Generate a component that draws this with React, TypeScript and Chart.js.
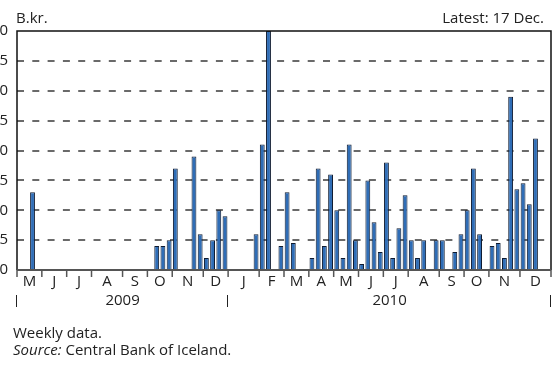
import React, { useEffect, useRef } from "react";
import { Chart, registerables } from "chart.js";

Chart.register(...registerables);

// Month tick labels and number of weekly observations in each month
const monthLabels: string[] = ["M", "J", "J", "A", "S", "O", "N", "D", "J", "F", "M", "A", "M", "J", "J", "A", "S", "O", "N", "D"];
const monthWeeks: number[] = [4, 4, 4, 5, 4, 4, 5, 4, 5, 4, 4, 4, 4, 4, 4, 5, 4, 4, 5, 5];
const yearLabels: string[] = ["2009", "2010"];
const yearMonths: number[] = [8, 12];
const yTicks: number[] = [0, 5, 10, 15, 20, 25, 30, 35, 40];

// Weekly values, B.kr. (null = no observation)
const weeklyValues: (number | null)[] = [
  null, null, 13, null, // May 09
  null, null, null, null, // Jun
  null, null, null, null, // Jul
  null, null, null, null, null, // Aug
  null, null, null, null, // Sep
  null, 4, 4, 5, // Oct
  17, null, null, 19, 6, // Nov
  2, 5, 10, 9, // Dec
  null, null, null, null, 6, // Jan 10
  21, 40, null, 4, // Feb
  13, 4.5, null, null, // Mar
  2, 17, 4, 16, // Apr
  10, 2, 21, 5, // May
  1, 15, 8, 3, // Jun
  18, 2, 7, 12.5, // Jul
  5, 2, 5, null, 5, // Aug
  5, null, 3, 6, // Sep
  10, 17, 6, null, // Oct
  4, 4.5, 2, 29, 13.5, // Nov
  14.5, 11, 22, null, null, // Dec
];

const categories: string[] = [];
monthLabels.forEach((m, i) => {
  for (let k = 0; k < monthWeeks[i]; k++) categories.push(`${m}${i}-w${k + 1}`);
});

const FONT = '"Open Sans", "DejaVu Sans", sans-serif';
const TEXT = "#222";

const customPlugin = {
  id: "custom",
  beforeDatasetsDraw(chart: any) {
    const { ctx, chartArea: a, scales } = chart;
    const y = scales.y;
    ctx.save();
    ctx.strokeStyle = "#3a3a3a";
    ctx.lineWidth = 1.5;
    ctx.setLineDash([7, 8.3]);
    yTicks.forEach((v) => {
      if (v === 0 || v === 40) return;
      const py = Math.round(y.getPixelForValue(v));
      ctx.beginPath();
      ctx.moveTo(a.left, py);
      ctx.lineTo(a.right, py);
      ctx.stroke();
    });
    ctx.restore();
  },
  afterDraw(chart: any) {
    const { ctx, chartArea: a, scales } = chart;
    const y = scales.y;
    const x = scales.x;
    const n = categories.length;
    const slot = (a.right - a.left) / n;
    const bx = (b: number) => (b >= n ? a.right : x.getPixelForValue(b) - slot / 2);
    ctx.save();
    // frame
    ctx.lineWidth = 1.5;
    ctx.strokeStyle = "#111";
    ctx.beginPath();
    ctx.moveTo(a.left, a.bottom);
    ctx.lineTo(a.left, a.top);
    ctx.lineTo(a.right, a.top);
    ctx.lineTo(a.right, a.bottom);
    ctx.stroke();
    // x-axis line
    ctx.strokeStyle = "#555";
    ctx.lineWidth = 2;
    ctx.beginPath();
    ctx.moveTo(a.left, a.bottom);
    ctx.lineTo(a.right, a.bottom);
    ctx.stroke();
    // month ticks & labels
    ctx.lineWidth = 1.5;
    ctx.strokeStyle = "#555";
    ctx.fillStyle = TEXT;
    ctx.font = `15px ${FONT}`;
    ctx.textAlign = "center";
    ctx.textBaseline = "middle";
    let b = 0;
    monthLabels.forEach((m, i) => {
      const x0 = bx(b);
      const x1 = bx(b + monthWeeks[i]);
      ctx.beginPath();
      ctx.moveTo(x0, a.bottom);
      ctx.lineTo(x0, a.bottom + 7);
      ctx.stroke();
      ctx.fillText(m, (x0 + x1) / 2, a.bottom + 12);
      b += monthWeeks[i];
    });
    ctx.beginPath();
    ctx.moveTo(a.right, a.bottom);
    ctx.lineTo(a.right, a.bottom + 7);
    ctx.stroke();
    // years
    let mIdx = 0;
    ctx.strokeStyle = "#222";
    ctx.lineWidth = 1;
    yearLabels.forEach((yl, i) => {
      let w0 = 0;
      for (let k = 0; k < mIdx; k++) w0 += monthWeeks[k];
      let w1 = w0;
      for (let k = mIdx; k < mIdx + yearMonths[i]; k++) w1 += monthWeeks[k];
      const x0 = bx(w0);
      const x1 = bx(w1);
      ctx.beginPath();
      ctx.moveTo(Math.round(x0) - 0.5, a.bottom + 25);
      ctx.lineTo(Math.round(x0) - 0.5, a.bottom + 37);
      ctx.stroke();
      if (i === yearLabels.length - 1) {
        ctx.beginPath();
        ctx.moveTo(Math.round(x1) - 0.5, a.bottom + 25);
        ctx.lineTo(Math.round(x1) - 0.5, a.bottom + 37);
        ctx.stroke();
      }
      ctx.fillText(yl, (x0 + x1) / 2, a.bottom + 31);
      mIdx += yearMonths[i];
    });
    // y labels
    ctx.textAlign = "right";
    yTicks.forEach((v) => {
      ctx.fillText(String(v), 8, y.getPixelForValue(v));
    });
    // header
    ctx.textAlign = "left";
    ctx.fillText("B.kr.", 16, 19);
    ctx.textAlign = "right";
    ctx.fillText("Latest: 17 Dec.", 544, 19);
    // footer
    ctx.textAlign = "left";
    ctx.fillText("Weekly data.", 13, 334);
    ctx.font = `italic 15px ${FONT}`;
    ctx.fillText("Source:", 13, 351);
    const w = ctx.measureText("Source:").width;
    ctx.font = `15px ${FONT}`;
    ctx.fillText(" Central Bank of Iceland.", 13 + w, 351);
    ctx.restore();
  },
};

export default function App() {
  const ref = useRef<HTMLCanvasElement | null>(null);
  useEffect(() => {
    if (!ref.current) return;
    const chart = new Chart(ref.current, {
      type: "bar",
      data: {
        labels: categories,
        datasets: [
          {
            data: weeklyValues as any,
            backgroundColor: "#2f6db6",
            borderColor: "#0f1b30",
            borderWidth: 1,
            barPercentage: 0.78,
            categoryPercentage: 1,
          },
        ],
      },
      options: {
        responsive: false,
        animation: false,
        devicePixelRatio: 1,
        layout: { padding: { left: 17, right: 4, top: 31, bottom: 97 } },
        plugins: { legend: { display: false }, tooltip: { enabled: false } },
        scales: {
          x: { display: false, offset: true },
          y: { display: false, min: 0, max: 40 },
        },
      },
      plugins: [customPlugin],
    });
    return () => chart.destroy();
  }, []);
  return (
    <div style={{ position: "fixed", left: 0, top: 0, width: 555, height: 367, background: "#fff" }}>
      <canvas ref={ref} width={555} height={367} />
    </div>
  );
}
